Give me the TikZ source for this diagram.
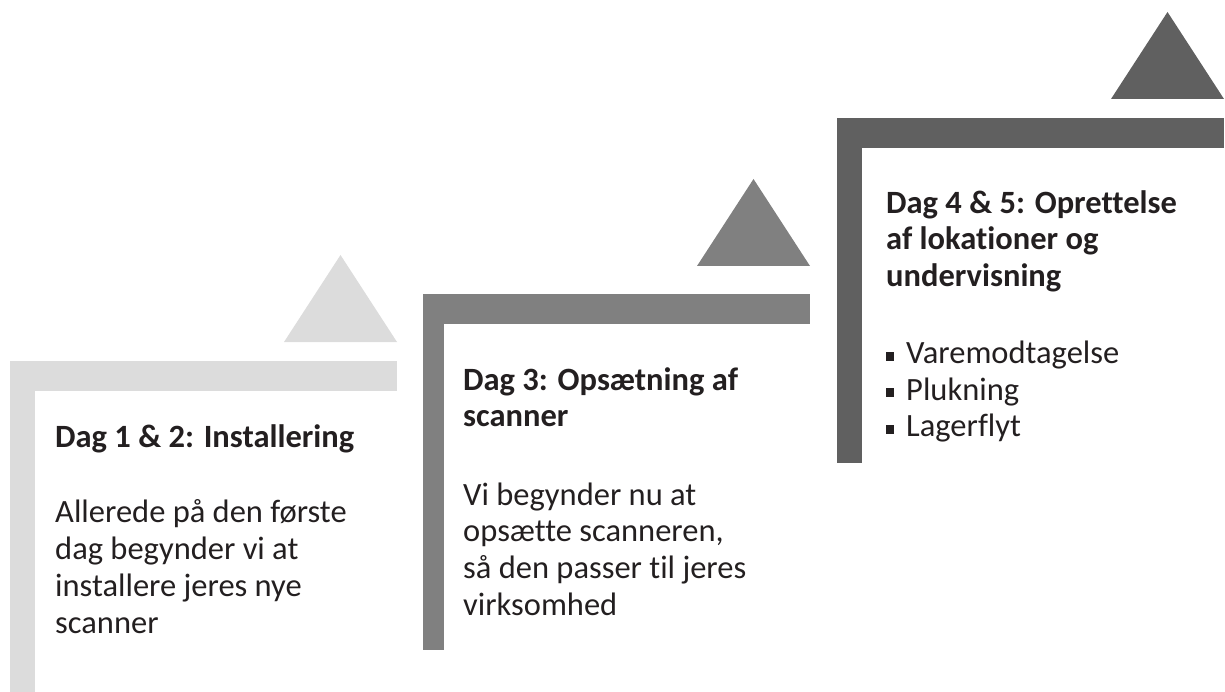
\documentclass[tikz,border=0pt]{standalone}
\usepackage{fontspec}
\setmainfont{Carlito}[Ligatures=NoCommon]
\usepackage{xcolor}
\usetikzlibrary{positioning}
\definecolor{stepA}{HTML}{DCDCDC}
\definecolor{stepB}{HTML}{808080}
\definecolor{stepC}{HTML}{606060}
\definecolor{ink}{HTML}{231F20}
\newcommand{\sqbullet}{\makebox[20pt][l]{\color{ink}\rule[2.6pt]{8pt}{9pt}}}

\begin{document}
\begin{tikzpicture}[x=1pt, y=-1pt,
        steptitle/.style={anchor=base west, inner sep=0pt, align=left, text=ink, font=\fontsize{32.5}{36.7}\selectfont\bfseries},
        stepbody/.style={anchor=base west, inner sep=0pt, align=left, text=ink, font=\fontsize{32.5}{36.7}\selectfont}
    ]
        \useasboundingbox (0,0) rectangle (1225,692);

        % Step bars and arrows
        \foreach \x/\y/\w/\b/\g/\c in {10/361/25/692/19/stepA, 423/294/21/650/28/stepB, 837/118/25/463/19/stepC} {
            \fill[\c] (\x,\y) rectangle (\x+387,\y+30);
            \fill[\c] (\x,\y) rectangle (\x+\w,\b);
            \fill[\c] (\x+274,\y-\g) -- (\x+387,\y-\g) -- (\x+330.5,\y-\g-87) -- cycle;
        }

        % Dag 1 & 2
        \node[steptitle] (title1) at (55,447) {Dag 1 \& 2: Installering};
        \node[below=186pt of title1.base west, stepbody] (body1) {Allerede på den første\\dag begynder vi at\\installere jeres nye\\scanner};

        % Dag 3
        \node[steptitle] (title2) at (463,426.7) {Dag 3: Opsætning af\\scanner};
        \node[below=188.4pt of title2.base west, stepbody] (body2) {Vi begynder nu at\\opsætte scanneren,\\så den passer til jeres\\virksomhed};

        % Dag 4 & 5
        \node[steptitle] (title3) at (886,286.7) {Dag 4 \& 5: Oprettelse\\af lokationer og\\undervisning};
        \node[below=150pt of title3.base west, stepbody] (body3) {\sqbullet Varemodtagelse\\\sqbullet Plukning\\\sqbullet Lagerflyt};
    \end{tikzpicture}
\end{document}
